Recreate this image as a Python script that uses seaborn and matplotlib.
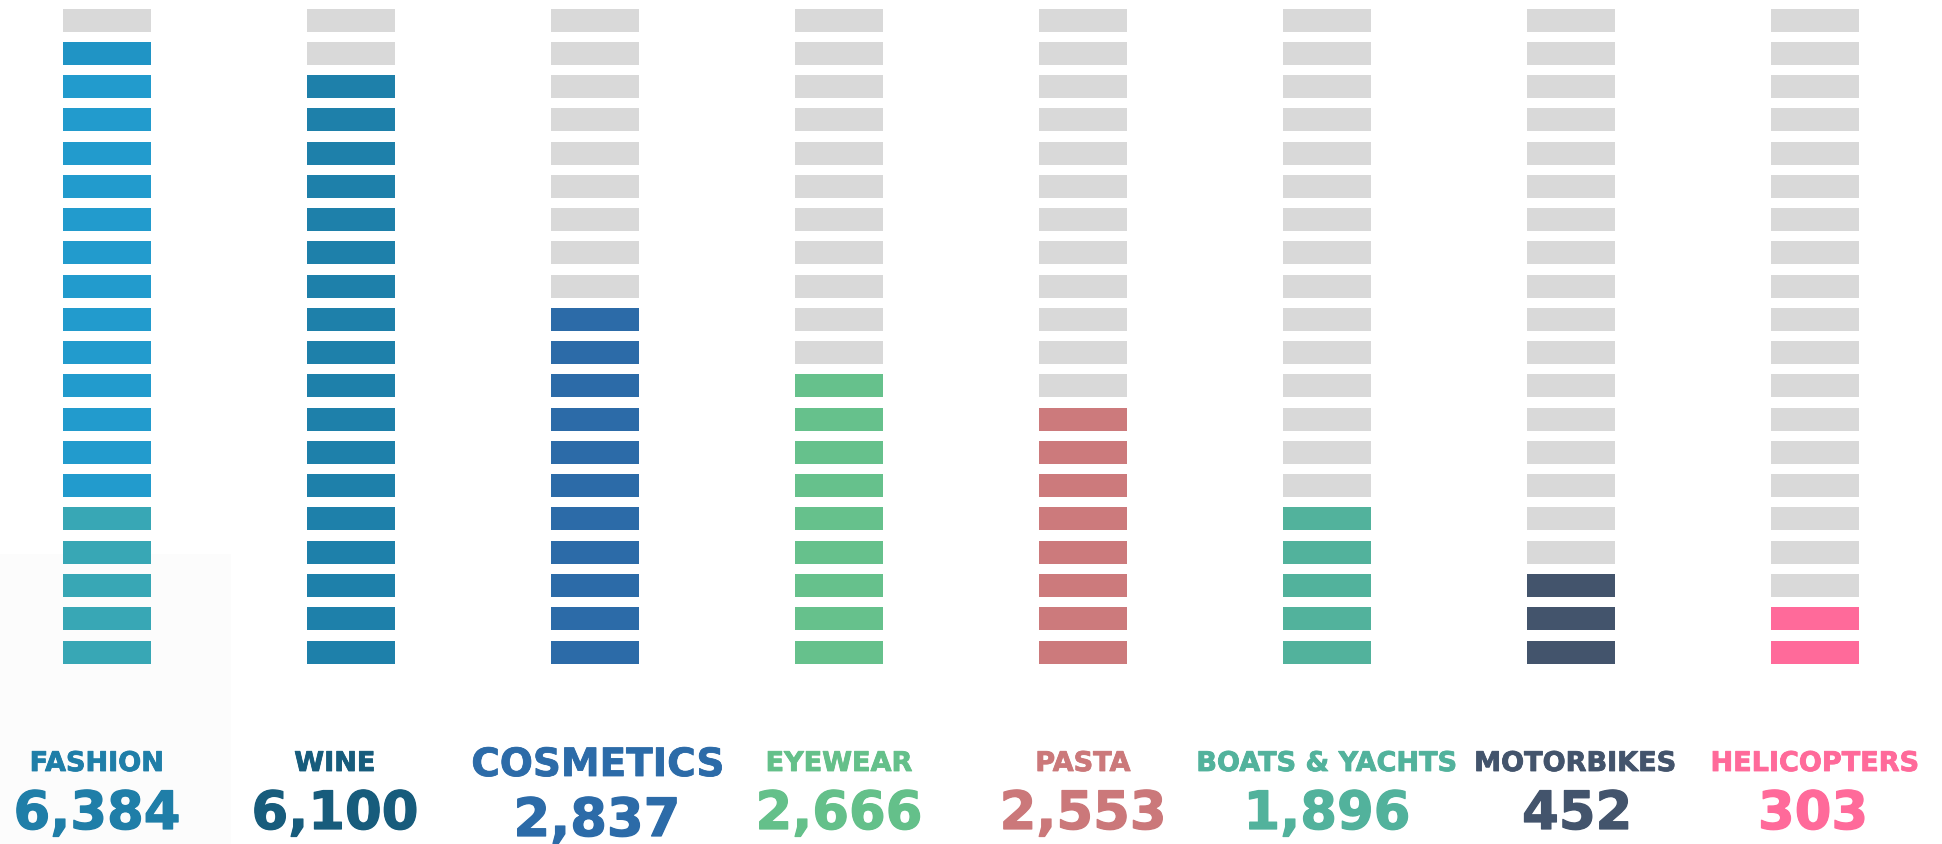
import matplotlib
matplotlib.use("Agg")
import matplotlib.pyplot as plt
import matplotlib.patheffects as pe
import seaborn as sns
from matplotlib.patches import Rectangle

# ---- data ----
categories = ["FASHION", "WINE", "COSMETICS", "EYEWEAR", "PASTA",
              "BOATS & YACHTS", "MOTORBIKES", "HELICOPTERS"]
values = [6384, 6100, 2837, 2666, 2553, 1896, 452, 303]
filled_blocks = [19, 18, 11, 9, 8, 5, 3, 2]
total_blocks = 20
fashion_teal_blocks = 5          # bottom blocks of FASHION drawn in teal
fashion_dark_top_blocks = 1      # top filled FASHION block slightly darker

# ---- styles ----
bar_colors = ["#229bcd", "#1e80aa", "#2c6ba8", "#66c18c", "#cc7a7c",
              "#52b29c", "#43546c", "#ff6a9a"]
text_colors = ["#1f7ea8", "#175c7c", "#2c6ba8", "#64c08a", "#cb787a",
               "#52b29c", "#43546c", "#ff6a9a"]
fashion_teal = "#38a7b5"
fashion_dark = "#2094c5"
empty_color = "#d9d9d9"
label_sizes = [19.5, 19.5, 28, 19.5, 19.5, 19.5, 19.5, 19.5]
number_size = 38
label_dx = [-0.041, -0.066, 0.012, 0, 0, 0, 0.018, 0]
number_dx = [-0.041, -0.066, 0.008, 0, 0, 0, 0.025, -0.008]

sns.set_theme(style="white")
plt.rcParams["font.family"] = ["DejaVu Sans"]

W, H, DPI = 1942, 845, 100
fig = plt.figure(figsize=(W / DPI, H / DPI), dpi=DPI)
ax = fig.add_axes([0, 0, 1, 1])

col_pitch = 244.0
x0 = 107.0
row_pitch = 33.26
bottom_px = 180.5
ax.set_xlim(-x0 / col_pitch, (W - x0) / col_pitch)
ax.set_ylim(-bottom_px / row_pitch, (H - bottom_px) / row_pitch)
ax.axis("off")


def ypix(px_from_top):
    return (H - px_from_top - bottom_px) / row_pitch


# faint background panel at lower left
ax.add_patch(Rectangle((-x0 / col_pitch, ypix(845)),
                       231 / col_pitch, (845 - 555) / row_pitch,
                       facecolor="#fcfcfc", edgecolor="none", zorder=0))

bar_w = 88 / col_pitch
bar_h = 23 / row_pitch

for i, cat in enumerate(categories):
    n = filled_blocks[i]
    for r in range(total_blocks):
        if r < n:
            c = bar_colors[i]
            if i == 0:
                if r < fashion_teal_blocks:
                    c = fashion_teal
                elif r >= n - fashion_dark_top_blocks:
                    c = fashion_dark
        else:
            c = empty_color
        ax.bar(i, bar_h, bottom=r, width=bar_w, color=c, linewidth=0, zorder=2)

for i, cat in enumerate(categories):
    big = label_sizes[i] > 20
    ly = ypix(777) if big else ypix(772)
    ny = ypix(837) if big else ypix(830)
    col = text_colors[i]
    t1 = ax.text(i + label_dx[i], ly, cat, ha="center", va="baseline",
                 fontsize=label_sizes[i], fontweight="bold", color=col)
    t2 = ax.text(i + number_dx[i], ny, f"{values[i]:,}", ha="center", va="baseline",
                 fontsize=number_size, fontweight="bold", color=col)
    for t, lw in ((t1, 0.6), (t2, 0.9)):
        t.set_path_effects([pe.withStroke(linewidth=lw, foreground=col)])

fig.savefig("out.png", dpi=DPI, facecolor="white")
